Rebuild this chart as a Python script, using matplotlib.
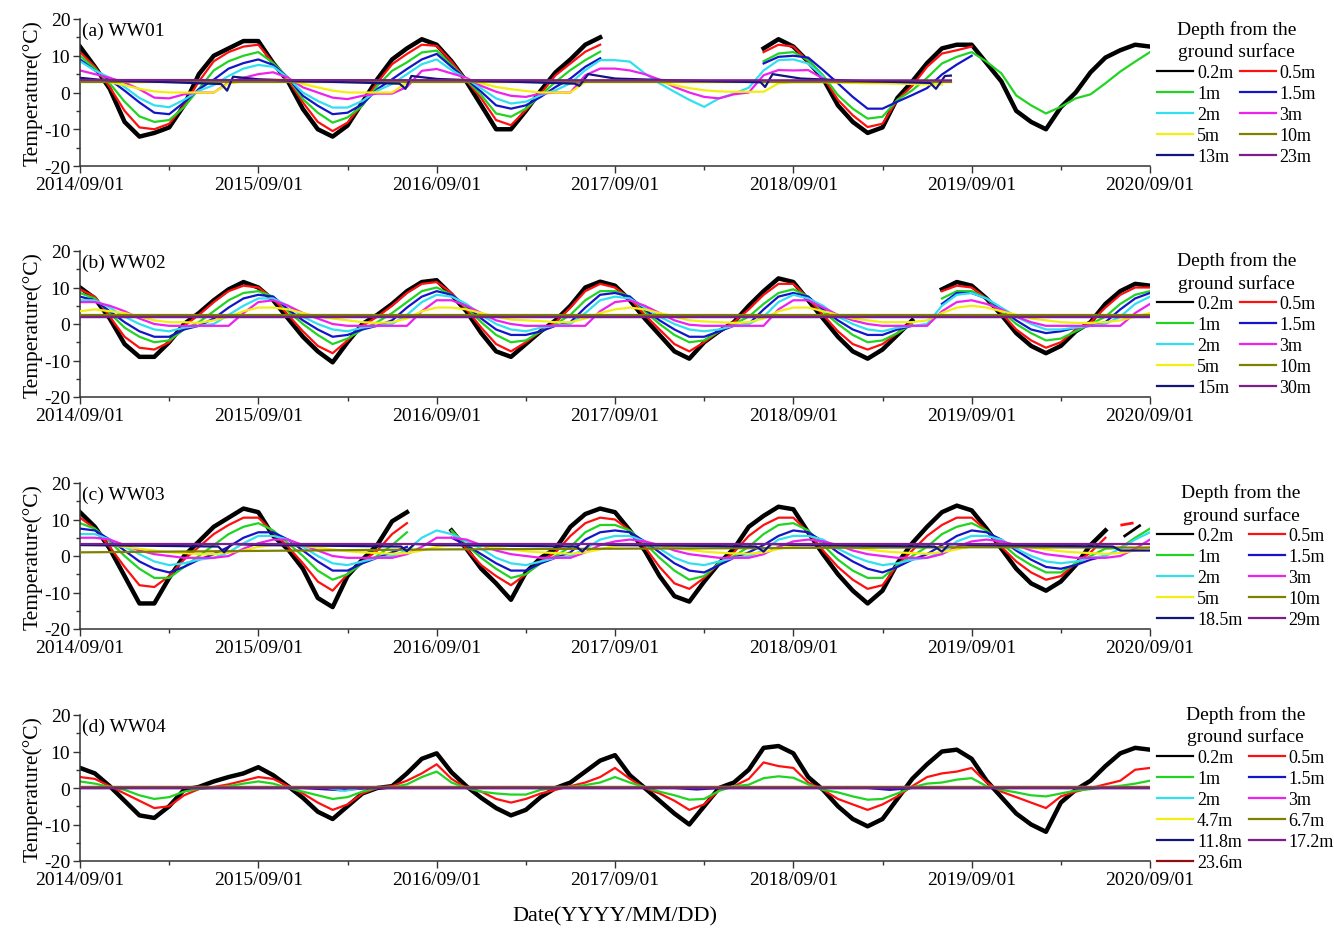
import numpy as np
import matplotlib
matplotlib.use("Agg")
import matplotlib.pyplot as plt
from matplotlib.lines import Line2D

plt.rcParams['font.family'] = ['Liberation Serif', 'DejaVu Serif']
plt.rcParams['axes.unicode_minus'] = False
N = None

# ---------------- shared axis data ----------------
MONTHS = list(range(73))            # months since 2014/09/01
TICK_MONTHS = [0, 12, 24, 36, 48, 60, 72]
TICK_LABELS = ['2014/09/01', '2015/09/01', '2016/09/01', '2017/09/01',
               '2018/09/01', '2019/09/01', '2020/09/01']
MINOR_MONTHS = [6, 18, 30, 42, 54, 66]

# ---------------- (a) WW01 ----------------
A_02 = [12.5, 7, 1, -8, -12, -11, -9.5, -3.5, 5, 10, 12, 14, 14,
        8, 3, -4.5, -10, -12, -9, -2.7, 3.6, 9, 12, 14.5, 13,
        8.5, 3, -3.5, -10, -10, -5, 0.5, 5.5, 9, 13, 15, N,
        N, N, N, N, N, N, N, N, N, 12, 14.5, 12.5,
        8.4, 3.8, -3.5, -8, -11, -9.5, -1.5, 3, 8, 12, 13, 13,
        8, 3, -5, -8, -10, -4, 0, 5.5, 9.5, 11.5, 13, 12.5]
A_05 = [11, 7, 1.5, -5, -9.5, -10, -8.5, -3.5, 3, 8.5, 11, 12.5, 13,
        8, 3.5, -2.7, -8, -10.5, -8.2, -3.2, 2.7, 7.7, 10.5, 13, 12.7,
        8.4, 3.3, -1.6, -7.5, -8.9, -4.8, -0.3, 4.7, 7.9, 11.1, 13, N,
        N, N, N, N, N, N, N, N, N, 11, 13, 12.5,
        8.4, 4.3, -2, -6.2, -9.4, -8.5, -2, 1.8, 7, 10.6, 11.5, 12.5,
        N, N, N, N, N, N, N, N, N, N, N, N]
A_1 = [10, 6.5, 2.5, -2.5, -6.5, -8, -7.5, -4, 1, 6, 8.5, 10, 11,
       8, 4, -1.8, -5.5, -8.2, -6.8, -3.6, 1.8, 5.9, 8.2, 10.9, 11.4,
       7.5, 3.5, -0.7, -5.7, -6.6, -4.4, -0.7, 2.9, 6.1, 8.8, 11.1, N,
       N, N, N, N, N, N, N, N, N, 8.5, 10.6, 11,
       8.8, 4.7, -0.7, -4.4, -7.1, -6.6, -2, 0.6, 4, 7.9, 9.7, 11,
       8.4, 5.2, -0.8, -3.5, -5.7, -3.9, -1.6, -0.5, 2.5, 5.7, 8.4, 11]
A_15 = [9, 6, 3.5, 0.5, -2.7, -5.5, -5.9, -2.7, 0.9, 3.5, 6.5, 8, 9,
        7.5, 4, -0.9, -3.6, -5.9, -5.5, -3.2, 0.9, 3.6, 6.4, 9, 10.5,
        7, 3.6, 0.2, -3.5, -4.4, -3.5, -1.2, 1.5, 3.8, 7, 9.3, N,
        N, N, N, N, N, N, N, N, N, 7.9, 9.7, 10,
        9.5, 6.1, 2.5, -1.2, -4.4, -4.4, -2.5, -0.7, 1.2, 4.9, 7.6, 10,
        N, N, N, N, N, N, N, N, N, N, N, N]
A_2 = [8.5, 6, 4, 1.5, -1.5, -3.5, -4, -2, 0.5, 2, 4.5, 6.5, 7.5,
       7, 4, 0, -2.3, -4.1, -4.1, -2.3, 0.5, 2.3, 5, 7.7, 9,
       6.1, 3.8, 1.1, -1.6, -3, -2.5, -0.7, 0.6, 2.5, 6.1, 8.8, 8.8,
       8.4, 5.2, 2.5, 0.2, -2, -3.9, -1.6, -0.3, 1.3, 6, 8.8, 9,
       7.9, 4.3, N, N, N, N, N, N, N, N, N, N,
       N, N, N, N, N, N, N, N, N, N, N, N]
A_3 = [6, 5, 4, 2.7, 0.9, -1.4, -1.6, -0.5, 0, 0, 2.7, 4, 5,
       5.5, 4, 1.4, 0, -1.4, -1.8, -0.9, -0.3, -0.3, 1.5, 5.9, 6.4,
       5.2, 4, 1.8, 0.2, -0.9, -1.2, -0.3, 0, 0, 4.7, 6.5, 6.5,
       6, 5, 3.5, 1.5, 0, -1.2, -1.6, -0.5, 0, 4.7, 6.1, 6,
       6.1, 3.8, N, N, N, N, N, N, N, N, N, N,
       N, N, N, N, N, N, N, N, N, N, N, N]
A_5 = [3.5, 3.5, 2.8, 2, 1, 0.3, 0, 0, 0, 0, 2.5, 3, 3.5,
       3.5, 3.5, 2.3, 1.4, 0.5, 0, 0, 0, 0, 2.7, 3.3, 3.5,
       3.5, 3.5, 2.5, 1.5, 0.9, 0.4, 0, 0, 0, 2.9, 3.3, 3.3,
       3.3, 3.2, 2.9, 2, 1.2, 0.6, 0.3, 0.2, 0.2, 0.2, 2.5, 2.8,
       2.8, 2.8, 2.7, 2.6, 2.5, 2.5, 2.4, 2.3, 2.2, 2.2, N, N,
       N, N, N, N, N, N, N, N, N, N, N, N]
A_10_M = [0, 58.6]
A_10 = [2.8, 2.8]
A_13_M = [0, 1.5, 6, 9.5, 9.9, 10.3, 12, 15, 21.5, 21.9, 22.3, 24, 27, 33.3, 33.6,
          34.2, 36, 40, 45.8, 46.1, 46.6, 48.5, 52, 57.2, 57.6, 58.2, 58.6]
A_13 = [4.0, 3.4, 2.8, 2.3, 0.5, 4.3, 3.6, 3.1, 2.4, 1.0, 4.5, 3.7, 3.2, 2.4, 1.8,
        5.0, 3.8, 3.3, 2.8, 1.5, 5.0, 3.8, 3.2, 2.6, 1.0, 4.5, 4.6]
A_23_M = [0, 58.6]
A_23 = [3.4, 3.3]

# ---------------- (b) WW02 ----------------
B_02 = [10, 7, 1.5, -5.5, -9, -9, -5, 0, 3, 6.5, 9.5, 11.5, 10,
        6.5, 1.5, -3.5, -7.5, -10.5, -5, 0, 2.5, 5.5, 9, 11.5, 12,
        8, 3.5, -2.5, -7.5, -9, -5.5, -2, 1, 5, 10, 11.6, 10.5,
        6.5, 1.5, -3, -7.5, -9.5, -5, -2, 0.5, 5, 9, 12.5, 11.5,
        6.5, 1.5, -3.5, -7.5, -9.5, -7, -3, 1, N, 9.5, 11.5, 10.5,
        7, 2.5, -2.5, -6, -8, -6, -2, 0.5, 5.5, 9, 11, 10.5]
B_05 = [9.5, 7.5, 2, -3.5, -6.5, -7, -5, -0.5, 2.5, 6, 9, 10.5, 10,
        7, 2.5, -2, -6, -8, -4.5, -0.5, 2, 5, 8.5, 11, 11.5,
        8.5, 4, -1, -5.5, -7.5, -5, -2, 0.5, 4.5, 9, 11, 10,
        7, 2.5, -1.5, -5.5, -7.5, -5, -2, 0.5, 4, 8, 11, 11,
        7, 2.5, -2, -5.5, -7, -5.5, -2.5, 0.5, N, 9, 10.5, 10,
        7, 3, -1.5, -4.5, -6.5, -5, -1.5, 0.5, 4.5, 8, 10, 10]
B_1 = [8.5, 7, 3, -1, -3.5, -5, -4.5, -1.5, 0.5, 3.5, 6.5, 8.5, 9,
       7.5, 3.5, 0, -3, -5.5, -4, -1.5, 0.5, 3, 6, 9, 10,
       8, 4.5, 0.5, -3, -5, -4.5, -2, 0, 2.5, 6.5, 9, 9,
       7.5, 3.5, 0, -3, -5, -4.5, -2, 0, 2, 5.5, 8.5, 9.5,
       7.5, 3.5, 0, -3, -5, -4.5, -2.5, 0, N, 7, 9, 9,
       7, 3.5, 0, -2.5, -4.5, -4, -2, 0, 2, 5.5, 8, 9]
B_15 = [7.5, 6.5, 3.5, 0.5, -2, -3.5, -3.5, -1.5, -0.5, 1.5, 4.5, 7, 8,
        7.5, 4, 1, -1.5, -3.5, -3, -1.5, -0.5, 1, 4.5, 7.5, 9,
        8, 5, 1.5, -1.5, -3, -3, -2, -0.5, 0.5, 4.5, 8, 8.5,
        7.5, 4, 1, -1.5, -3.5, -3.5, -2, -0.5, 0, 4, 7.5, 8.5,
        7.5, 4, 1, -1.5, -3, -3, -1.5, -0.5, N, 5.5, 8.5, 8.5,
        7, 4, 1, -1.5, -2.5, -2, -1, -0.5, 0.5, 4, 7, 8.5]
B_2 = [6.5, 6.5, 4.5, 2, 0, -1.5, -2, -1, -0.5, 0, 2.5, 5, 7,
       7, 5, 2, 0, -1.5, -2, -1, -0.5, 0, 2.5, 6, 8,
       7.5, 5.5, 2.5, 0, -1.5, -2, -1, -0.5, 0, 3, 6.5, 7.5,
       7, 4.5, 2, 0, -1.5, -2, -1.5, -0.5, 0, 2, 6, 8,
       7, 5, 2, 0, -1.5, -2, -1, -0.5, 0, 5, 8, 8.5,
       7, 4.5, 2, 0, -1.5, -1.5, -1, -0.5, 0, 2, 5.5, 7.5]
B_3 = [6, 6, 5, 3.5, 1.5, 0, -0.5, -0.5, -0.5, -0.5, -0.5, 3, 6,
       6.5, 5, 3, 1.5, 0, -0.5, -0.5, -0.5, -0.5, -0.5, 3.5, 6.5,
       6.5, 5, 3, 1, 0, -0.5, -0.5, -0.5, -0.5, -0.5, 3.5, 6,
       6.5, 5, 3, 1, -0.2, -0.5, -0.5, -0.5, -0.5, -0.5, 4, 6.5,
       6.5, 4.5, 2.5, 1, 0, -0.5, -0.5, -0.5, -0.5, 3.5, 6, 6.5,
       5.5, 4, 2, 0.5, -0.5, -0.5, -0.5, -0.5, -0.5, -0.5, 3, 5.5]
B_5 = [3.5, 4, 3.5, 3, 2, 1, 0.5, 0.5, 0.3, 1, 2, 3.5, 4.5,
       4.5, 4, 3, 2, 1.5, 1, 0.5, 0.3, 0.5, 1.5, 3.5, 4.5,
       4.5, 4, 3, 2, 1.2, 1, 0.8, 0.5, 0.5, 1.5, 3, 4,
       4.5, 4, 3, 2, 1, 0.7, 0.5, 0.3, 0.5, 1.5, 3.5, 4.5,
       4.5, 3.5, 2.5, 1.5, 1, 0.5, 0.5, 0.5, 1, 3, 4.5, 5,
       4.5, 3.5, 2.5, 1.5, 1, 0.5, 0.3, 0.3, 0.5, 1, 2, 3]
B_10_M = [0, 72]
B_10 = [2.6, 2.6]
B_15M_M = [0, 72]
B_15M = [2.0, 2.0]
B_30_M = [0, 72]
B_30 = [1.9, 1.9]

# ---------------- (c) WW03 ----------------
C_02 = [12, 8, 2, -5.5, -13, -13, -6, 0, 4, 8, 10.5, 13, 12,
        5.5, 1.8, -3.5, -11.5, -14, -5.5, -1, 3, 9.5, 12, N, N,
        7, 2, -3.5, -7.5, -12, -4.5, -0.5, 2, 8, 11.5, 13, 12,
        7, 1.5, -5.5, -11, -12.5, -7, -2, 2, 8, 11, 13.5, 12.8,
        6.5, 0.5, -5, -9.5, -13, -9.5, -2, 3.5, 8, 12, 13.8, 12.5,
        7.5, 2, -3.5, -7.5, -9.5, -7, -2.5, 3, 7, N, N, N]
C_05 = [10.5, 7.5, 2.5, -3, -8, -8.5, -5.5, -1, 2.5, 6, 8.5, 10.5, 10.5,
        6.5, 2.5, -2, -7, -9.5, -5, -1.5, 1.5, 6, 9, N, N,
        6.5, 2, -2.5, -5.5, -8, -5, -1.5, 1, 5.5, 9, 10.5, 10,
        7, 2.5, -3, -7.5, -9, -6, -2, 1, 5.5, 8.5, 10.5, 10.5,
        6.5, 1.5, -3, -6.5, -9, -8, -2.5, 1.5, 5.5, 8.5, 10.5, 10.5,
        7, 2.5, -1.5, -4.5, -6.5, -5.5, -2, 1, 5, N, N, N]
C_1 = [9, 7.5, 4, 0, -3.5, -6, -6, -3, 0, 3, 6, 8, 9,
       7, 3.5, 0, -4, -6.5, -5, -2, 0, 3, 6.5, N, N,
       7, 3, -0.5, -3.5, -6, -5, -2, 0, 2.5, 6.5, 8.5, 8.5,
       7, 3.5, -0.5, -4, -6.5, -5.5, -2, 0, 2.5, 6, 8.5, 9,
       7, 3, -1, -4, -6, -6, -2.5, 0, 2.5, 6, 8, 9,
       7, 3.5, 0, -2.5, -4.5, -4.5, -2, 0, 2, 2.2, 5, 7.5]
C_15 = [7.5, 7, 4.5, 1.5, -1.5, -3.5, -4.5, -3, -1, 0.5, 2.5, 5, 6.5,
        6.5, 4.5, 1.5, -1.5, -4, -4, -2, -0.5, 1, 2.5, N, N,
        5, 3, 0.5, -2, -4, -4, -2, -0.5, 1, 4.5, 6.5, 7,
        6.5, 4, 1, -2, -4, -4.5, -2.5, -0.5, 1, 3, 5.5, 7,
        6.5, 4, 1, -1.5, -3.5, -4.5, -3, -1, 0.5, 3, 5.5, 7,
        6.5, 4.5, 1.5, -1, -3, -3.5, -2.5, -1, 0, N, N, N]
C_2 = [6, 6, 4.5, 2.5, 0.5, -1.5, -2.5, -2, -1, -0.5, 1, 3.5, 5.5,
       5.5, 4.5, 2.5, 0, -2, -2.5, -1.5, -0.5, 0, 1.5, 5, 7,
       6, 4, 2, -0.5, -2, -2.5, -1.5, -0.5, 0, 2, 4.5, 5.5,
       5.5, 4, 2, -0.5, -2, -2.5, -1.5, -0.5, 0, 1.5, 4.5, 5.5,
       5.5, 4.5, 2, 0, -1.5, -2.5, -2, -1, -0.5, 1, 4, 5.5,
       5.5, 4.5, 2, 0, -1.5, -2, -1.5, -0.5, 0, 2, 4.5, 6.5]
C_3 = [5, 5, 4.5, 3, 1.5, 0.5, 0, -0.5, -0.5, -0.5, 0, 2, 3.5,
       4.5, 4.5, 3, 1.5, 0, -0.5, -0.5, -0.5, -0.5, 0.5, 2.5, 5,
       5, 4.5, 3, 1.5, 0.5, 0, -0.5, -0.5, -0.5, 1, 3, 4,
       4.5, 4, 3, 1.5, 0.5, 0, -0.5, -0.5, -0.5, 0.5, 2.5, 4,
       4.5, 4, 3, 1.5, 0.5, 0, -0.5, -0.5, -0.5, 0.5, 2.5, 4,
       4.5, 4, 3, 1.5, 0.5, 0, -0.5, -0.5, -0.5, 0, 2, 4.5]
C_5 = [3, 3, 3, 2.5, 2, 1.5, 1, 0.8, 0.5, 0.5, 1, 1.5, 2.5,
       3, 3, 2.8, 2.3, 1.8, 1.3, 1, 0.8, 0.6, 0.8, 1.5, 2.5,
       3, 3, 2.8, 2.3, 1.8, 1.3, 1, 0.8, 0.6, 1, 1.8, 2.8,
       3, 3.1, 2.8, 2.2, 1.7, 1.2, 0.9, 0.7, 0.6, 1, 1.9, 2.8,
       3.1, 3, 2.7, 2.3, 1.8, 1.3, 1, 0.8, 0.6, 1.1, 1.8, 2.7,
       3, 3, 2.8, 2.3, 1.8, 1.3, 1, 0.8, 0.6, 0.8, 1.5, 2.5]
C_10_M = [0, 12, 24, 36, 48, 60, 72]
C_10 = [1.0, 1.4, 1.8, 2.0, 2.2, 2.4, 2.3]
C_185_M = [0, 9.3, 9.7, 10.2, 12, 21.6, 22, 22.5, 24, 33.4, 33.8, 34.3, 36,
           45.5, 46, 46.5, 48, 57.5, 58, 58.5, 60, 69.5, 70, 70.5, 72]
C_185 = [3.0, 2.6, 1.0, 3.3, 3.0, 2.6, 1.3, 3.3, 3.0, 2.6, 1.2, 3.3, 3.0,
         2.6, 1.2, 3.3, 3.0, 2.6, 1.2, 3.3, 3.0, 2.6, 1.5, 1.5, 1.5]
C_29_M = [0, 72]
C_29 = [3.3, 3.3]
C_TAIL_02_M = [70.3, 71.3]
C_TAIL_02 = [5.5, 8.3]
C_TAIL_05_M = [70.1, 70.8]
C_TAIL_05 = [8.5, 9.0]

# ---------------- (d) WW04 ----------------
D_02 = [5.5, 4, 0.5, -3.5, -7.5, -8.2, -5, -0.5, 0.3, 1.8, 3, 4, 5.7,
        3.5, 0.5, -2.7, -6.5, -8.5, -5, -1.5, 0, 0.5, 4, 8, 9.5,
        4.3, 0.5, -2.7, -5.5, -7.5, -6, -2.5, 0, 1.5, 4.5, 7.5, 9,
        3.5, 0, -3.5, -7, -10, -5, 0, 1.5, 5, 11, 11.5, 9.5,
        3, -0.5, -5, -8.5, -10.5, -8.5, -3, 2.5, 6.5, 10, 10.5, 8,
        2, -2.5, -7, -10, -12, -4, -0.5, 2, 6, 9.5, 11, 10.5]
D_05 = [3, 2.5, 0.5, -1.5, -3.5, -5.5, -5, -2, -0.3, 0.3, 1, 2, 3,
        2.5, 0.5, -1.5, -4, -6, -4.5, -1.5, 0, 0.5, 2, 4, 6.5,
        2.5, 0, -1, -3, -4, -3, -1.5, -0.5, 0.5, 1.5, 3, 5.5,
        2.5, 0, -1.5, -3.5, -6, -4.5, -0.5, 0.5, 2.5, 7, 6, 5.5,
        1.5, -0.5, -3, -4.5, -6, -4.5, -2.3, 0.5, 3, 4, 4.5, 5.5,
        1.5, -1, -2.5, -4, -5.5, -2.3, -1, 0, 1, 2, 5, 5.5]
D_1 = [1.8, 1.2, 0.3, -0.5, -2, -3, -2.5, -1, -0.2, 0, 0.5, 1.2, 1.8,
       1.2, 0, -1, -2, -3, -2.5, -1, 0, 0.2, 1, 3, 4.5,
       1.5, 0, -1, -1.5, -1.8, -1.8, -0.5, 0, 0.3, 0.8, 1.5, 3,
       1.5, 0.2, -1, -2, -3.2, -3, -0.8, 0.5, 0.9, 2.7, 3.2, 2.8,
       1, -0.5, -1.2, -2.3, -3.2, -3, -1.5, 0.2, 1.2, 1.5, 2.3, 2.7,
       0.5, -0.5, -1.2, -2, -2.3, -1.5, -0.7, -0.3, 0.2, 0.6, 1.2, 2]
D_15_M = [0, 15, 17.5, 19.5, 40, 41.5, 43, 53, 54.5, 56, 72]
D_15 = [0, 0, -0.6, 0, 0, -0.4, 0, 0, -0.5, 0, 0]
D_2_M = [0, 16.5, 17.8, 19, 72]
D_2 = [0.1, 0.1, -0.8, 0.1, 0.1]
D_3_M = [0, 72]
D_3 = [0.2, 0.2]
D_47_M = [0, 72]
D_47 = [0.3, 0.3]
D_67_M = [0, 72]
D_67 = [0.2, 0.2]
D_118_M = [0, 72]
D_118 = [0.0, 0.0]
D_172_M = [0, 72]
D_172 = [0.1, 0.1]
D_236_M = [0, 72]
D_236 = [0.0, 0.0]

# ---------------- colours ----------------
C_BLACK = '#000000'
C_RED = '#FF1010'
C_GREEN = '#22D422'
C_BLUE = '#1414C8'
C_CYAN = '#30E0F0'
C_MAGENTA = '#EE22EE'
C_YELLOW = '#F2EE10'
C_OLIVE = '#808000'
C_NAVY = '#14147E'
C_PURPLE = '#7E1E8C'
C_WINE = '#8E1010'

M = MONTHS
PANELS = [
    ('(a) WW01', [
        ('0.2m', M, A_02, C_BLACK), ('0.5m', M, A_05, C_RED),
        ('1m', M, A_1, C_GREEN), ('1.5m', M, A_15, C_BLUE),
        ('2m', M, A_2, C_CYAN), ('3m', M, A_3, C_MAGENTA),
        ('5m', M, A_5, C_YELLOW), ('10m', A_10_M, A_10, C_OLIVE),
        ('13m', A_13_M, A_13, C_NAVY), ('23m', A_23_M, A_23, C_PURPLE)], []),
    ('(b) WW02', [
        ('0.2m', M, B_02, C_BLACK), ('0.5m', M, B_05, C_RED),
        ('1m', M, B_1, C_GREEN), ('1.5m', M, B_15, C_BLUE),
        ('2m', M, B_2, C_CYAN), ('3m', M, B_3, C_MAGENTA),
        ('5m', M, B_5, C_YELLOW), ('10m', B_10_M, B_10, C_OLIVE),
        ('15m', B_15M_M, B_15M, C_NAVY), ('30m', B_30_M, B_30, C_PURPLE)], []),
    ('(c) WW03', [
        ('0.2m', M, C_02, C_BLACK), ('0.5m', M, C_05, C_RED),
        ('1m', M, C_1, C_GREEN), ('1.5m', M, C_15, C_BLUE),
        ('2m', M, C_2, C_CYAN), ('3m', M, C_3, C_MAGENTA),
        ('5m', M, C_5, C_YELLOW), ('10m', C_10_M, C_10, C_OLIVE),
        ('18.5m', C_185_M, C_185, C_NAVY), ('29m', C_29_M, C_29, C_PURPLE)],
        [(C_TAIL_02_M, C_TAIL_02, C_BLACK), (C_TAIL_05_M, C_TAIL_05, C_RED)]),
    ('(d) WW04', [
        ('0.2m', M, D_02, C_BLACK), ('0.5m', M, D_05, C_RED),
        ('1m', M, D_1, C_GREEN), ('1.5m', D_15_M, D_15, C_BLUE),
        ('2m', D_2_M, D_2, C_CYAN), ('3m', D_3_M, D_3, C_MAGENTA),
        ('4.7m', D_47_M, D_47, C_YELLOW), ('6.7m', D_67_M, D_67, C_OLIVE),
        ('11.8m', D_118_M, D_118, C_NAVY), ('17.2m', D_172_M, D_172, C_PURPLE),
        ('23.6m', D_236_M, D_236, C_WINE)], []),
]

W, H = 1334, 929
fig = plt.figure(figsize=(W / 100, H / 100), dpi=100)
RECTS = [(20, 167), (252, 398), (484, 630), (716, 862)]

for (title, series, extras), (top, bot) in zip(PANELS, RECTS):
    ax = fig.add_axes([80 / W, 1 - bot / H, 1070 / W, (bot - top) / H])
    for i, (lab, xs, ys, col) in enumerate(series):
        lw = 3.2 if i == 0 else 1.6
        z = 2 + i * 0.1
        if lab in ('23m', '30m', '29m', '17.2m'):
            z = 4
        ax.plot(np.asarray(xs, float), np.asarray(ys, dtype=float), color=col,
                lw=lw, zorder=z, solid_joinstyle='round')
    for xs, ys, col in extras:
        ax.plot(np.asarray(xs, float), np.asarray(ys, dtype=float), color=col,
                lw=2.0, zorder=3)

    ax.set_xlim(0, 72)
    ax.set_ylim(-20, 20)
    for s in ('top', 'right'):
        ax.spines[s].set_visible(False)
    for s in ('left', 'bottom'):
        ax.spines[s].set_linewidth(1.1)
        ax.spines[s].set_color('#333333')
    ax.set_xticks(TICK_MONTHS)
    ax.set_xticklabels(TICK_LABELS)
    ax.set_xticks(MINOR_MONTHS, minor=True)
    ax.set_yticks([-20, -10, 0, 10, 20])
    ax.set_yticks([-15, -5, 5, 15], minor=True)
    ax.tick_params(axis='both', which='major', direction='out', length=5,
                   width=1.0, labelsize=14, pad=2, color='#333333')
    ax.tick_params(axis='both', which='minor', direction='out', length=3,
                   width=1.0, color='#333333')
    ax.set_ylabel('Temperature(\u00b0C)', fontsize=15.5, labelpad=1)
    ax.text(0.002, 0.985, title, transform=ax.transAxes, ha='left', va='top',
            fontsize=14)

    handles = [Line2D([], [], color=c, lw=1.6) for (_, _, _, c) in series]
    labels = [s[0] for s in series]
    order = list(range(0, len(series), 2)) + list(range(1, len(series), 2))
    leg = ax.legend([handles[k] for k in order], [labels[k] for k in order],
                    loc='center left', bbox_to_anchor=(1.0, 0.5), ncol=2,
                    frameon=False, fontsize=13,
                    title='Depth from the\nground surface', title_fontsize=14,
                    handlelength=2.0, handletextpad=0.2, columnspacing=0.35,
                    labelspacing=0.22, borderaxespad=0.4, borderpad=0.0)
    leg.get_title().set_multialignment('center')
    leg.get_title().set_linespacing(1.3)

fig.text(615 / W, 1 - 917 / H, 'Date(YYYY/MM/DD)', ha='center', va='center',
         fontsize=16)

fig.savefig('out.png', dpi=100)
